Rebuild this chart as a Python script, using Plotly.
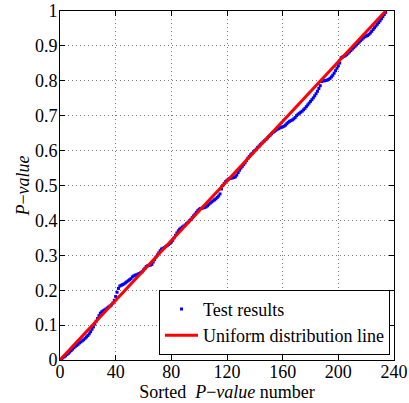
import plotly.graph_objects as go

p_values = [
    0.002, 0.006, 0.009, 0.012, 0.016, 0.019, 0.023, 0.027, 0.031, 0.035,
    0.039, 0.042, 0.045, 0.049, 0.052, 0.055, 0.058, 0.062, 0.066, 0.070,
    0.075, 0.081, 0.088, 0.095, 0.103, 0.111, 0.119, 0.127, 0.134, 0.138,
    0.141, 0.143, 0.146, 0.149, 0.152, 0.155, 0.158, 0.163, 0.171, 0.182,
    0.194, 0.205, 0.212, 0.214, 0.216, 0.218, 0.221, 0.224, 0.227, 0.230,
    0.233, 0.238, 0.241, 0.243, 0.244, 0.246, 0.248, 0.250, 0.253, 0.258,
    0.263, 0.268, 0.270, 0.271, 0.272, 0.274, 0.281, 0.288, 0.295, 0.301,
    0.307, 0.313, 0.318, 0.320, 0.322, 0.325, 0.328, 0.331, 0.334, 0.338,
    0.343, 0.350, 0.357, 0.364, 0.370, 0.375, 0.378, 0.381, 0.384, 0.387,
    0.391, 0.395, 0.399, 0.403, 0.408, 0.413, 0.418, 0.423, 0.428, 0.432,
    0.434, 0.435, 0.436, 0.437, 0.439, 0.442, 0.446, 0.450, 0.453, 0.456,
    0.459, 0.462, 0.466, 0.470, 0.476, 0.490, 0.500, 0.506, 0.511, 0.515,
    0.518, 0.520, 0.521, 0.522, 0.523, 0.525, 0.530, 0.537, 0.544, 0.550,
    0.555, 0.560, 0.565, 0.572, 0.578, 0.583, 0.588, 0.592, 0.596, 0.600,
    0.604, 0.609, 0.613, 0.617, 0.621, 0.625, 0.628, 0.632, 0.636, 0.640,
    0.644, 0.648, 0.652, 0.655, 0.658, 0.661, 0.663, 0.665, 0.667, 0.668,
    0.670, 0.673, 0.677, 0.681, 0.684, 0.686, 0.688, 0.691, 0.695, 0.700,
    0.704, 0.707, 0.710, 0.713, 0.717, 0.721, 0.726, 0.731, 0.736, 0.741,
    0.746, 0.751, 0.757, 0.763, 0.770, 0.778, 0.786, 0.798, 0.800, 0.800,
    0.801, 0.802, 0.804, 0.807, 0.811, 0.816, 0.822, 0.829, 0.836, 0.843,
    0.851, 0.866, 0.868, 0.870, 0.872, 0.875, 0.879, 0.883, 0.887, 0.891,
    0.895, 0.899, 0.903, 0.907, 0.911, 0.915, 0.919, 0.923, 0.926, 0.928,
    0.930, 0.933, 0.937, 0.942, 0.947, 0.952, 0.957, 0.962, 0.967, 0.972,
    0.978, 0.984, 0.990, 0.996,
]
sample_numbers = list(range(1, len(p_values) + 1))

uniform_x = [0, len(p_values)]
uniform_y = [0, 1]

x_ticks = [0, 40, 80, 120, 160, 200, 240]
y_ticks = [0, 0.1, 0.2, 0.3, 0.4, 0.5, 0.6, 0.7, 0.8, 0.9, 1]
y_tick_text = ["0", "0.1", "0.2", "0.3", "0.4", "0.5", "0.6", "0.7", "0.8", "0.9", "1"]

FONT = "Liberation Serif"
FS = 18

fig = go.Figure()
fig.add_trace(go.Scatter(
    x=sample_numbers, y=p_values, mode="markers", name="Test results",
    marker=dict(symbol="square", size=3, color="#0000ff", line=dict(width=0)),
))
fig.add_trace(go.Scatter(
    x=uniform_x, y=uniform_y, mode="lines", name="Uniform distribution line",
    line=dict(color="#ff0000", width=3),
))

axis_common = dict(
    showline=True, linecolor="black", linewidth=1, mirror="ticks",
    ticks="inside", ticklen=5, tickcolor="black", tickwidth=1,
    showgrid=True, gridcolor="#7a7a7a", gridwidth=1, griddash="1px,3px",
    zeroline=False, automargin=False,
    tickfont=dict(family=FONT, size=FS, color="black"),
)

fig.update_xaxes(
    range=[0, 240], tickvals=x_ticks, ticktext=[str(t) for t in x_ticks],
    ticklabelstandoff=-5,
    title=dict(text="Sorted  <i>P</i>\u2212<i>value</i> number",
               font=dict(family=FONT, size=FS, color="black"), standoff=0),
    **axis_common,
)
fig.update_yaxes(
    range=[0, 1], tickvals=y_ticks, ticktext=y_tick_text,
    ticklabelstandoff=-2,
    title=dict(text="<i>P</i>\u2212<i>value</i>",
               font=dict(family=FONT, size=FS, color="black"), standoff=0),
    **axis_common,
)

fig.update_layout(
    width=409, height=403,
    margin=dict(l=60, r=15, t=11, b=43),
    plot_bgcolor="white", paper_bgcolor="white",
    font=dict(family=FONT, size=FS, color="black"),
    legend=dict(
        x=0.988, y=0.015, xanchor="right", yanchor="bottom",
        bgcolor="white", bordercolor="black", borderwidth=1,
        font=dict(family=FONT, size=FS, color="black"),
        itemsizing="trace", itemwidth=33, tracegroupgap=0,
    ),
)

fig.write_html(
    "out.html",
    config={"displayModeBar": False},
    post_script="document.body.style.margin='0';document.body.style.overflow='hidden';",
)
